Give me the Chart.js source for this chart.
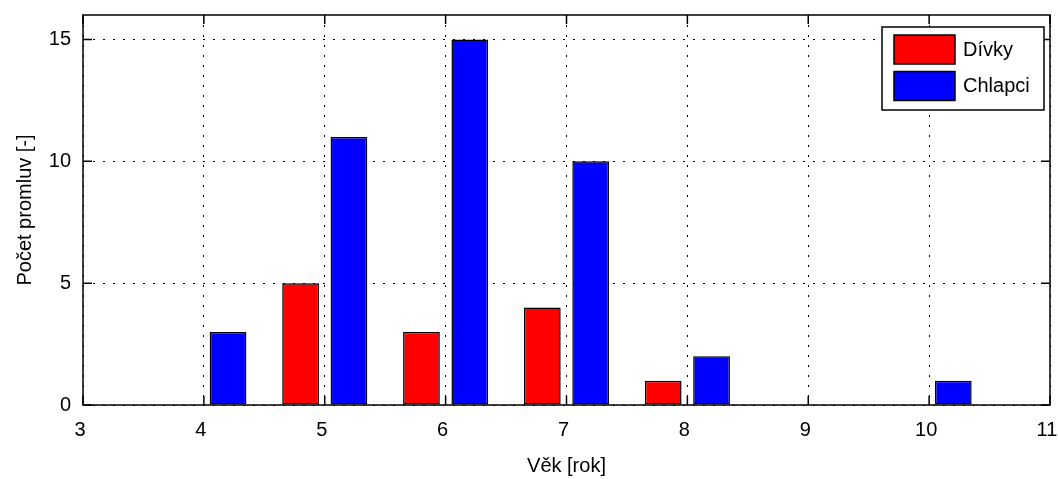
<!DOCTYPE html>
<html>
<head>
<meta charset="utf-8">
<script src="https://cdn.jsdelivr.net/npm/chart.js@4"></script>
<style>
  html, body { margin: 0; padding: 0; background: #fff; }
  #wrap { width: 1058px; height: 479px; }
</style>
</head>
<body>
<div id="wrap"><canvas id="c" width="1058" height="479"></canvas></div>
<script>
const categories = [4, 5, 6, 7, 8, 9, 10];
const divky = [0, 5, 3, 4, 1, 0, 0];
const chlapci = [3, 11, 15, 10, 2, 0, 1];
const seriesNames = ['Dívky', 'Chlapci'];
const yTickValues = [0, 5, 10, 15];
const xTitle = 'Věk [rok]';
const yTitle = 'Počet promluv [-]';

const FONT = "'Liberation Sans', Arial, Helvetica, sans-serif";
const TICK_LEN = 9;

const framePlugin = {
  id: 'frame',
  afterDraw(chart) {
    const { ctx, chartArea: a, scales: { x, y } } = chart;
    ctx.save();
    ctx.strokeStyle = '#000';
    ctx.lineWidth = 1.5;
    ctx.strokeRect(a.left, a.top, a.right - a.left, a.bottom - a.top);
    ctx.beginPath();
    x.ticks.forEach(t => {
      const px = x.getPixelForValue(t.value);
      ctx.moveTo(px, a.bottom); ctx.lineTo(px, a.bottom - TICK_LEN);
      ctx.moveTo(px, a.top); ctx.lineTo(px, a.top + TICK_LEN);
    });
    y.ticks.forEach(t => {
      const py = y.getPixelForValue(t.value);
      ctx.moveTo(a.left, py); ctx.lineTo(a.left + TICK_LEN, py);
      ctx.moveTo(a.right, py); ctx.lineTo(a.right - TICK_LEN, py);
    });
    ctx.stroke();

    // Legend box (MATLAB style, top-right inside axes)
    const lx = 882, ly = 27, lw = 162, lh = 83;
    ctx.fillStyle = '#fff';
    ctx.fillRect(lx, ly, lw, lh);
    ctx.lineWidth = 1.5;
    ctx.strokeRect(lx, ly, lw, lh);
    ctx.font = '20px ' + FONT;
    ctx.textBaseline = 'middle';
    ctx.textAlign = 'left';
    chart.data.datasets.forEach((ds, i) => {
      const sy = 35 + i * 36.5;
      ctx.fillStyle = ds.backgroundColor;
      ctx.fillRect(894, sy, 61, 29);
      ctx.lineWidth = 1.5;
      ctx.strokeStyle = '#000';
      ctx.strokeRect(894, sy, 61, 29);
      ctx.fillStyle = '#000';
      ctx.fillText(ds.label, 963, sy + 15);
    });
    ctx.restore();
  }
};

new Chart(document.getElementById('c'), {
  type: 'bar',
  data: {
    datasets: [
      {
        label: seriesNames[0],
        data: categories.map((c, i) => ({ x: c, y: divky[i] })),
        backgroundColor: '#ff0000',
        borderColor: '#000',
        borderWidth: 1.5,
        borderSkipped: false
      },
      {
        label: seriesNames[1],
        data: categories.map((c, i) => ({ x: c, y: chlapci[i] })),
        backgroundColor: '#0000ff',
        borderColor: '#000',
        borderWidth: 1.5,
        borderSkipped: false
      }
    ]
  },
  options: {
    responsive: false,
    animation: false,
    devicePixelRatio: 1,
    categoryPercentage: 0.8,
    barPercentage: 0.76,
    layout: { padding: { top: 15, right: 8, left: 0, bottom: 0 } },
    plugins: { legend: { display: false }, tooltip: { enabled: false } },
    scales: {
      x: {
        type: 'linear',
        min: 3, max: 11,
        offset: false,
        grid: { offset: false, color: '#000', lineWidth: 1, drawTicks: false, borderDash: [2, 8] },
        border: { display: false, dash: [2, 8] },
        ticks: { stepSize: 1, padding: 13, labelOffset: -3, color: '#000', font: { family: FONT, size: 20 } },
        title: { display: true, text: xTitle, color: '#000', font: { family: FONT, size: 20 }, padding: { top: 0, bottom: 1 } },
        afterFit(scale) {
          scale.height = 74;
          scale.paddingLeft = 0; scale.paddingRight = 0;
          scale.paddingTop = 0; scale.paddingBottom = 0;
        }
      },
      y: {
        type: 'linear',
        min: 0, max: 16,
        grid: { color: '#000', lineWidth: 1, drawTicks: false, borderDash: [2, 8] },
        border: { display: false, dash: [2, 8] },
        ticks: { stepSize: 5, padding: 12, color: '#000', font: { family: FONT, size: 20 } },
        afterBuildTicks(scale) { scale.ticks = yTickValues.map(v => ({ value: v })); },
        title: { display: true, text: yTitle, color: '#000', font: { family: FONT, size: 20 }, padding: { top: 13, bottom: 0 } },
        afterFit(scale) {
          scale.width = 83;
          scale.paddingLeft = 0; scale.paddingRight = 0;
          scale.paddingTop = 0; scale.paddingBottom = 0;
        }
      }
    }
  },
  plugins: [framePlugin]
});
</script>
</body>
</html>
